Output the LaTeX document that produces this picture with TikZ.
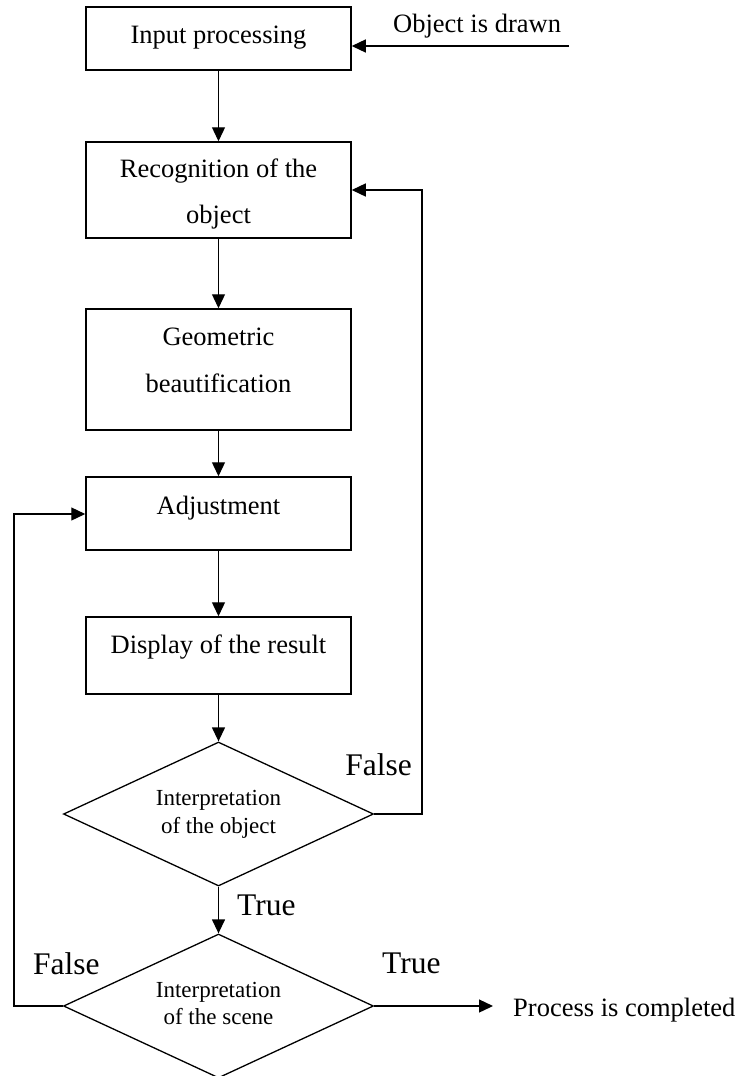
\documentclass[tikz,border=0pt]{standalone}
\usepackage{fontspec}
\setmainfont{Liberation Serif}
\usetikzlibrary{shapes.geometric,arrows.meta}
\begin{document}
\begin{tikzpicture}[x=1pt,y=-1pt,
  boxnode/.style={draw,line width=1.5pt,minimum width=265pt,inner sep=0pt},
  dianode/.style={draw,diamond,line width=1.3pt,minimum width=310pt,minimum height=144pt,inner sep=0pt},
  boxtxt/.style={anchor=base,inner sep=0pt,font=\fontsize{26.5}{30}\selectfont},
  diatxt/.style={anchor=base,inner sep=0pt,font=\fontsize{23}{26}\selectfont},
  lbltxt/.style={inner sep=0pt,font=\fontsize{31.5}{34}\selectfont},
  arr/.style={line width=1.3pt,-{Triangle[length=14pt,width=13pt]}},
  ln/.style={line width=1.3pt}]
\useasboundingbox (0,0) rectangle (743,1076);
% boxes
\node[boxnode,minimum height=63pt] (inp) at (218.5,38.5) {};
\node[boxnode,minimum height=96pt] (rec) at (218.5,190) {};
\node[boxnode,minimum height=121pt] (geo) at (218.5,369.5) {};
\node[boxnode,minimum height=73pt] (adj) at (218.5,513.5) {};
\node[boxnode,minimum height=77pt] (disp) at (218.5,655.5) {};
\node[dianode] (d1) at (218.5,814) {};
\node[dianode] (d2) at (218.5,1006) {};
% texts
\node[boxtxt] (tinp) at (218.5,43) {Input processing};
\node[boxtxt] (trec1) at (218.5,177) {Recognition of the};
\node[boxtxt] (trec2) at (218.5,223) {object};
\node[boxtxt] (tgeo1) at (218.5,345) {Geometric};
\node[boxtxt] (tgeo2) at (218.5,392) {beautification};
\node[boxtxt] (tadj) at (218.5,514) {Adjustment};
\node[boxtxt] (tdisp) at (218.5,653) {Display of the result};
\node[diatxt] (td11) at (218.5,805) {Interpretation};
\node[diatxt] (td12) at (218.5,833) {of the object};
\node[diatxt] (td21) at (218.5,997) {Interpretation};
\node[diatxt] (td22) at (218.5,1024) {of the scene};
\node[boxtxt,anchor=base west] (tobj) at (393,32) {Object is drawn};
\node[boxtxt,anchor=base west] (tend) at (513,1016) {Process is completed};
\node[lbltxt,anchor=base east] (fr) at (412,775) {False};
\node[lbltxt,anchor=base west] (fl) at (33,974) {False};
\node[lbltxt,anchor=base west] (tm) at (237,915) {True};
\node[lbltxt,anchor=base west] (trt) at (382,973) {True};
% connector coordinates
\coordinate (objstart) at (569,46);
\coordinate (rightturn) at (422,190);
\coordinate (leftturn) at (14,514);
\coordinate (endtip) at (493,1006);
% connectors
\draw[arr] (objstart) -- (objstart -| inp.east);
\draw[arr] (inp.south) -- (rec.north);
\draw[arr] (rec.south) -- (geo.north);
\draw[arr] (geo.south) -- (adj.north);
\draw[arr] (adj.south) -- (disp.north);
\draw[arr] (disp.south) -- (d1.north);
\draw[arr] (d1.south) -- (d2.north);
\draw[arr] (d1.east) -| (rightturn) -- (rec.east);
\draw[arr] (d2.west) -| (leftturn) -- (leftturn -| adj.west);
\draw[arr] (d2.east) -- (endtip);
\end{tikzpicture}
\end{document}
